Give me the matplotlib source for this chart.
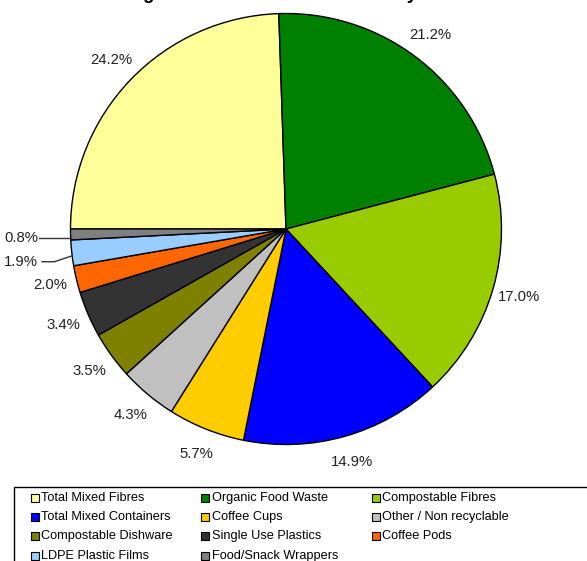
import numpy as np
import matplotlib.pyplot as plt
from matplotlib.patches import Rectangle

plt.rcParams['font.family'] = ['Liberation Sans', 'DejaVu Sans']

# data (order as drawn, starting at 9 o'clock and going clockwise)
categories = ['Total Mixed Fibres', 'Organic Food Waste', 'Compostable Fibres',
              'Total Mixed Containers', 'Coffee Cups', 'Other / Non recyclable',
              'Compostable Dishware', 'Single Use Plastics', 'Coffee Pods',
              'LDPE Plastic Films', 'Food/Snack Wrappers']
values = [24.2, 21.2, 17.0, 14.9, 5.7, 4.3, 3.5, 3.4, 2.0, 1.9, 0.8]
colors = ['#FFFF99', '#008000', '#99CC00', '#0000FF', '#FFCC00', '#C0C0C0',
          '#808000', '#333333', '#FF6600', '#99CCFF', '#808080']
title = 'Weight Breakdown Total Summary'

W, H = 587, 561
fig = plt.figure(figsize=(W / 100, H / 100), dpi=100)
ax = fig.add_axes([0, 0, 1, 1])

cx, cy, R = 286, H - 229, 215.5
wedges, _ = ax.pie(values, colors=colors, startangle=180, counterclock=False,
                   center=(cx, cy), radius=R, frame=True,
                   wedgeprops=dict(edgecolor='black', linewidth=1))
ax.set_xlim(0, W)
ax.set_ylim(0, H)
ax.set_aspect('equal')
ax.axis('off')

lab_kw = dict(fontsize=10.7, color='#222222')

# percentage labels
for i, w in enumerate(wedges):
    mid = np.deg2rad((w.theta1 + w.theta2) / 2)
    txt = f'{values[i]:.1f}%'
    if i < 9:
        ax.text(cx + 1.125 * R * np.cos(mid), cy + 1.125 * R * np.sin(mid), txt,
                ha='center', va='center', **lab_kw)
    else:
        # small slices: label pulled out with a leader line
        ex, ey = cx + R * np.cos(mid), cy + R * np.sin(mid)
        if i == 9:
            ty = cy - 0.152 * R
            ax.plot([cx - 1.132 * R, cx - 1.075 * R, ex], [ty, ty, ey - 3],
                    color='#333333', lw=1)
        else:
            ty = cy - 0.044 * R
            ax.plot([cx - 1.145 * R, ex], [ty, ty], color='#333333', lw=1)
        ax.text(cx - 1.15 * R, ty, txt, ha='right', va='center', **lab_kw)

# title (mostly above the visible area)
ax.text(110, H + 1, title, ha='left', va='baseline', fontsize=13.5,
        fontweight='bold', clip_on=False)

# legend drawn row by row
ax.add_patch(Rectangle((14, -10), W, H - 486.5 + 10, facecolor='white',
                       edgecolor='black', linewidth=1, clip_on=False))
for i, name in enumerate(categories):
    row, col = divmod(i, 3)
    y = H - 497.8 - row * 19.3
    x = 30.5 + col * 170.7
    ax.add_patch(Rectangle((x, y - 4), 8, 8, facecolor=colors[i],
                           edgecolor='black', linewidth=0.8))
    ax.text(x + 10.5, y, name, ha='left', va='center', fontsize=9.2, color='black')

fig.savefig('out.png', dpi=100)
